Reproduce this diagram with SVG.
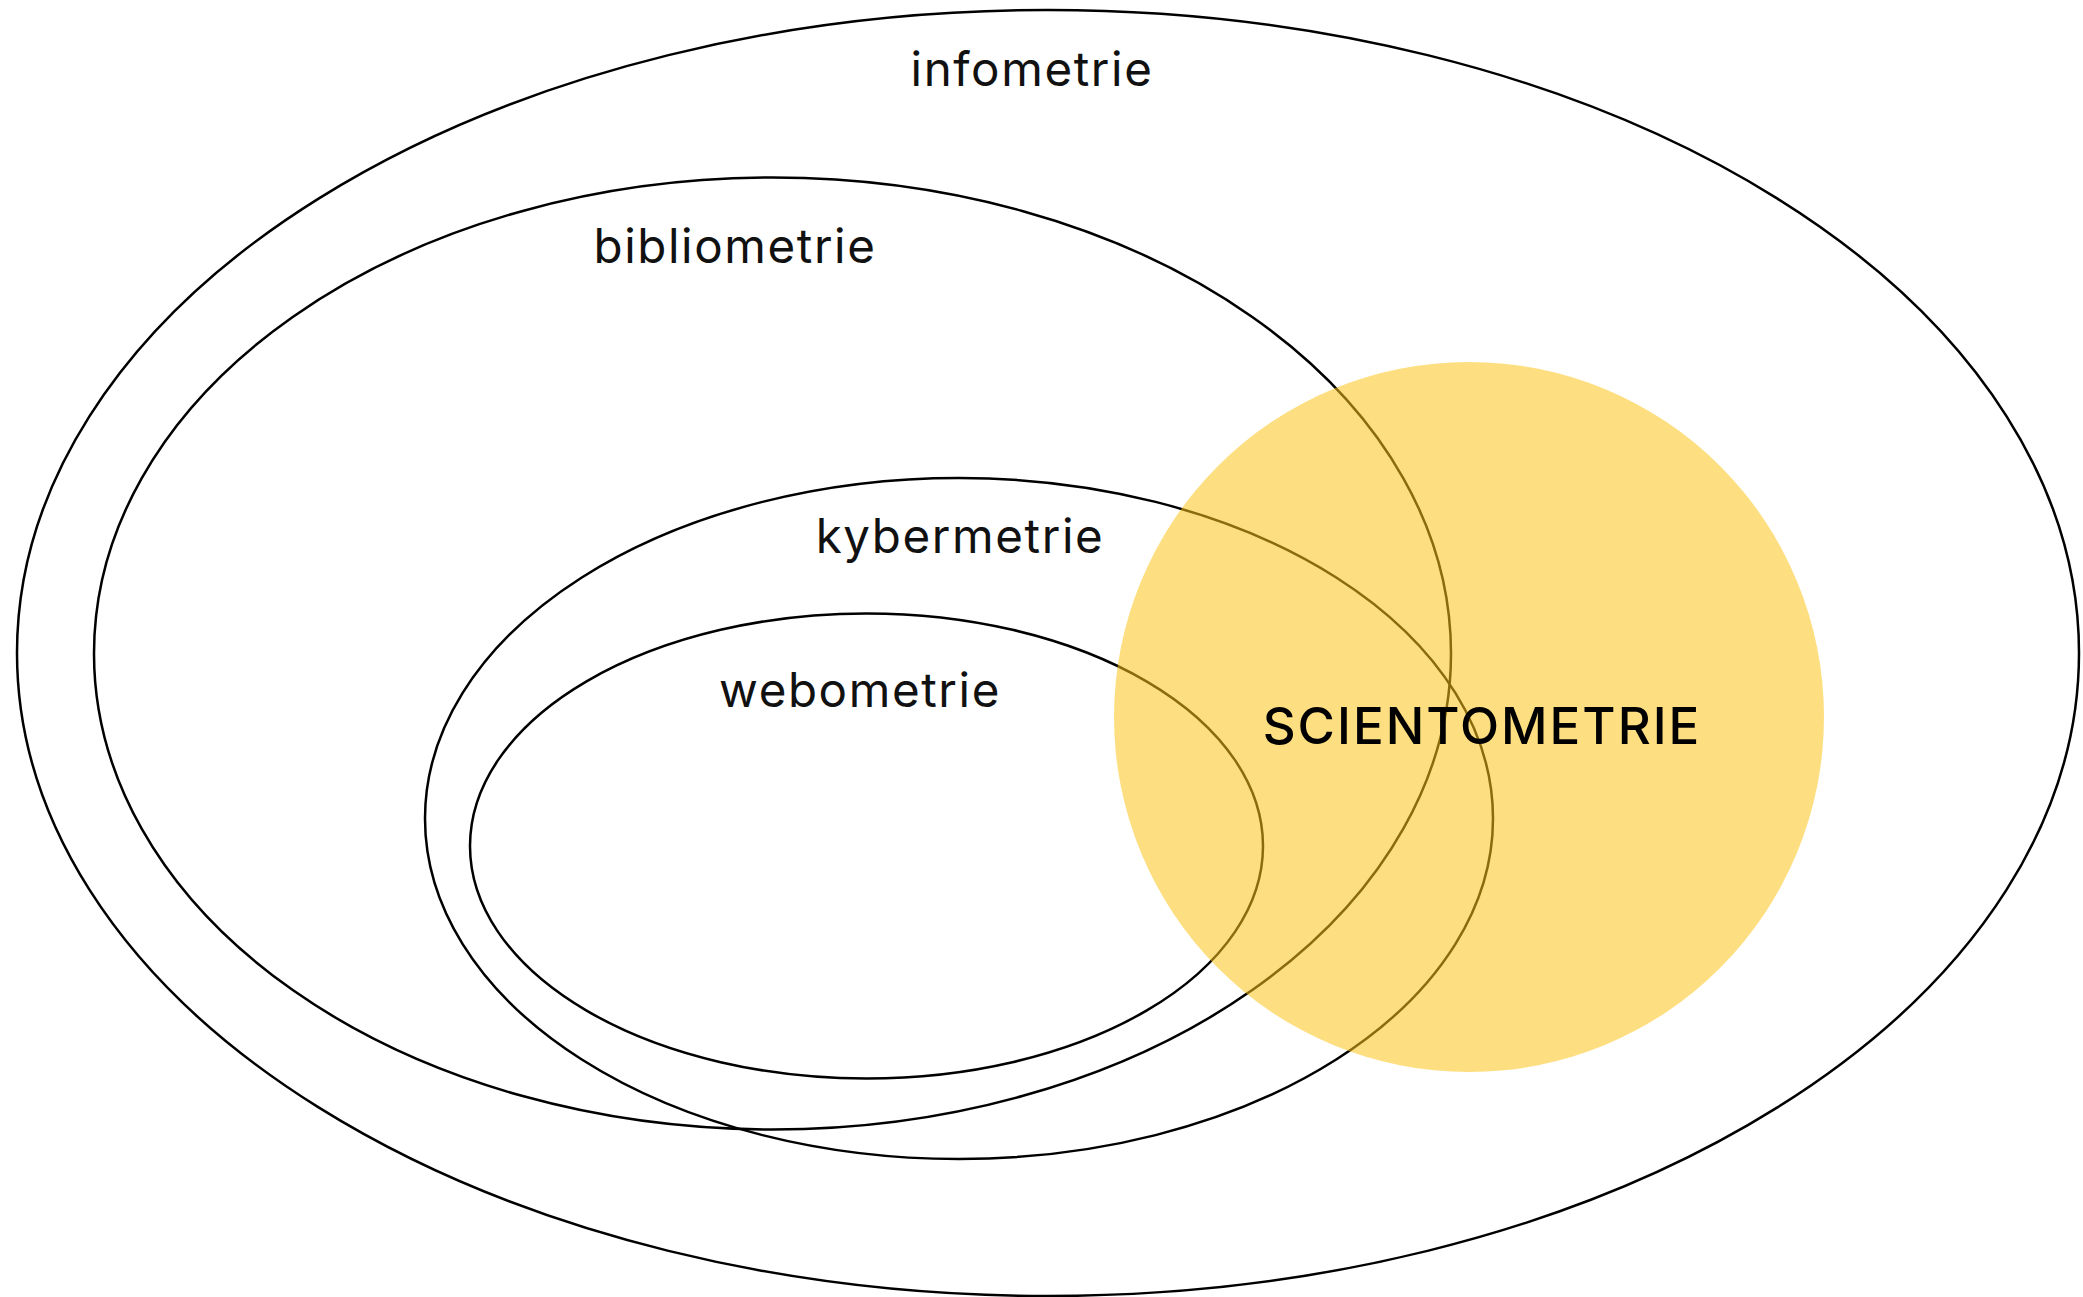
<svg xmlns="http://www.w3.org/2000/svg" width="2083" height="1297" viewBox="0 0 2083 1297">
<style>
.ring{fill:none;stroke:#000;stroke-width:2.5}
.lbl{font-family:Inter,"Open Sans",sans-serif;font-size:47.5px;fill:#111;text-anchor:middle;letter-spacing:1.6px}
.big{font-family:Inter,"Open Sans",sans-serif;font-size:51px;font-weight:500;fill:#000;text-anchor:middle;letter-spacing:2px}
</style>
<rect width="2083" height="1297" fill="#fff"/>
<g id="infometrie"><ellipse class="ring" cx="1048" cy="653" rx="1031" ry="643"/><text class="lbl" x="1032" y="86">infometrie</text></g>
<g id="bibliometrie"><ellipse class="ring" cx="772.5" cy="653.5" rx="678.5" ry="476"/><text class="lbl" x="735" y="263">bibliometrie</text></g>
<g id="kybermetrie"><ellipse class="ring" cx="959" cy="818.5" rx="534" ry="340.5"/><text class="lbl" x="960" y="553">kybermetrie</text></g>
<g id="webometrie"><ellipse class="ring" cx="866.5" cy="846" rx="396.5" ry="232.5"/><text class="lbl" x="860" y="707">webometrie</text></g>
<g id="scientometrie"><circle cx="1469" cy="717" r="355" fill="rgb(252,196,25)" fill-opacity="0.55"/><text class="big" x="1482" y="744">SCIENTOMETRIE</text></g>
<g id="connectors"></g>
</svg>
